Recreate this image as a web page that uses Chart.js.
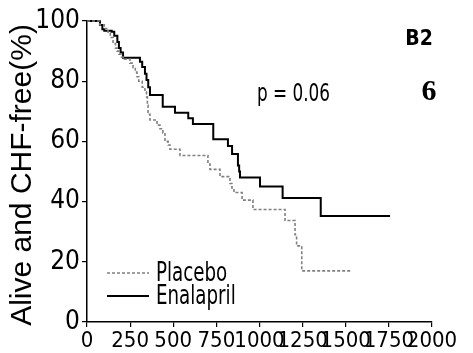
<!DOCTYPE html>
<html lang="en">
<head>
  <meta charset="UTF-8" />
  <title>Alive and CHF-free</title>
  <script src="https://cdn.jsdelivr.net/npm/chart.js"></script>
  <style>
    html, body {
      margin: 0;
      padding: 0;
      background: #fff;
    }
    #wrap {
      width: 473px;
      height: 353px;
    }
  </style>
</head>
<body>
  <div id="wrap"><canvas id="km" width="473" height="353"></canvas></div>

  <script>
    // Kaplan-Meier steps (days, % alive and CHF-free)
    const placeboDays = [0, 75, 100, 122, 135, 151, 165, 174, 185, 200, 209, 249, 267, 280, 290, 300, 320, 336, 345, 350, 354, 365, 406, 423, 440, 452, 470, 481, 539, 701, 713, 771, 829, 840, 852, 899, 962, 1148, 1206, 1215, 1245, 1535];
    const placeboPct = [100, 98.7, 97.5, 96, 94.5, 92.5, 91, 90, 89, 88, 87.3, 86, 84.5, 83, 81.5, 80, 78, 76.4, 74.8, 72, 69, 67.1, 65.4, 64.2, 62.8, 60, 58.8, 57.4, 55.3, 52.5, 50.7, 48.3, 46, 44.5, 43, 40.5, 37.4, 33.7, 29, 25.3, 17, 17];

    const enalaprilDays = [0, 75, 89, 100, 143, 158, 176, 185, 195, 209, 307, 320, 336, 345, 355, 365, 439, 510, 587, 614, 732, 817, 841, 875, 882, 887, 1003, 1134, 1355, 1757];
    const enalaprilPct = [100, 98.7, 97.3, 96.8, 96.4, 95.1, 93, 91, 89.5, 87.8, 86.5, 84.7, 82.5, 80.4, 78, 75.4, 71.5, 69.5, 67.7, 65.8, 60.7, 58.5, 55.8, 52, 50, 48, 45, 41.2, 35.2, 35.2];

    const seriesNames = ['Placebo', 'Enalapril'];
    const yTitle = 'Alive and CHF-free(%)';
    const pText = 'p = 0.06';
    const panelTag = 'B2';
    const panelNum = '6';

    const canvas = document.getElementById('km');
    const ctx = canvas.getContext('2d');

    // pick first installed font from a list (compare against two fallbacks)
    function pickFont(cands, fallback) {
      const probe = 'mmmwwwiiilll0123456789';
      for (const name of cands) {
        let differs = false;
        for (const base of ['monospace', 'serif']) {
          ctx.font = '40px ' + base;
          const w0 = ctx.measureText(probe).width;
          ctx.font = '40px "' + name + '", ' + base;
          if (ctx.measureText(probe).width !== w0) differs = true;
        }
        if (differs) return '"' + name + '"';
      }
      return fallback;
    }

    const narrow = pickFont(['Liberation Sans Narrow', 'DejaVu Sans Condensed', 'Roboto Condensed'], '"Liberation Sans"');
    const plain = '"Liberation Sans", Arial, sans-serif';

    function toPoints(days, pct) {
      return days.map((d, i) => ({ x: d, y: pct[i] }));
    }

    // text squeezed horizontally, the original uses a condensed face
    function squeezed(c, text, x, y, sx) {
      c.save();
      c.translate(x, y);
      c.scale(sx, 1);
      c.fillText(text, 0, 0);
      c.restore();
    }

    const textPlugin = {
      id: 'panelText',
      afterDraw(chart) {
        const c = chart.ctx;
        c.save();
        c.fillStyle = '#000';

        // y axis title
        c.save();
        c.translate(23, 175);
        c.rotate(-Math.PI / 2);
        c.textAlign = 'center';
        c.textBaseline = 'middle';
        c.font = '30px ' + plain;
        c.fillText(yTitle, 0, 0);
        c.restore();

        c.textBaseline = 'alphabetic';
        c.textAlign = 'left';
        c.font = '24px ' + narrow;
        squeezed(c, pText, 257, 101, 0.78);

        c.textAlign = 'center';
        c.font = 'bold 21px ' + narrow;
        c.fillText(panelTag, 419, 45);

        c.font = 'bold 30px "Liberation Serif", "DejaVu Serif", serif';
        c.fillText(panelNum, 429, 100);

        // legend
        const rows = [
          { y: 273, dash: [3, 2], color: '#808080', w: 1.6, label: seriesNames[0], base: 281 },
          { y: 296, dash: [], color: '#000', w: 2, label: seriesNames[1], base: 304 }
        ];
        rows.forEach(r => {
          c.beginPath();
          c.setLineDash(r.dash);
          c.strokeStyle = r.color;
          c.lineWidth = r.w;
          c.moveTo(107, r.y);
          c.lineTo(149, r.y);
          c.stroke();
          c.setLineDash([]);
          c.textAlign = 'left';
          c.font = '26px ' + narrow;
          squeezed(c, r.label, 156, r.base, 0.78);
        });
        c.restore();
      }
    };

    const chart = new Chart(ctx, {
      type: 'line',
      data: {
        datasets: [
          {
            label: seriesNames[0],
            data: toPoints(placeboDays, placeboPct),
            stepped: 'before',
            borderColor: '#808080',
            borderWidth: 1.6,
            borderDash: [3, 2],
            pointRadius: 0,
            fill: false,
            clip: 5
          },
          {
            label: seriesNames[1],
            data: toPoints(enalaprilDays, enalaprilPct),
            stepped: 'before',
            borderColor: '#000',
            borderWidth: 2,
            pointRadius: 0,
            fill: false,
            clip: 5
          }
        ]
      },
      options: {
        responsive: false,
        animation: false,
        events: [],
        layout: { padding: { left: 0, right: 41, top: 21, bottom: 0 } },
        plugins: {
          legend: { display: false },
          tooltip: { enabled: false }
        },
        scales: {
          x: {
            type: 'linear',
            min: 0,
            max: 2000,
            afterFit: s => { s.height = 31; },
            ticks: {
              stepSize: 250,
              autoSkip: false,
              maxRotation: 0,
              padding: 1,
              color: '#000',
              font: { family: narrow, size: 22 },
              callback: v => String(v)
            },
            grid: { drawOnChartArea: false, drawTicks: true, tickLength: 5, color: '#000', lineWidth: 1.2 },
            border: { color: '#000', width: 1.5 }
          },
          y: {
            min: 0,
            max: 100,
            afterFit: s => { s.width = 87; },
            ticks: {
              stepSize: 10,
              padding: 2,
              color: '#000',
              font: { family: narrow, size: 26 },
              callback: v => (v % 20 === 0 ? String(v) : '')
            },
            grid: { drawOnChartArea: false, drawTicks: true, tickLength: 5, color: '#000', lineWidth: 1.2 },
            border: { color: '#000', width: 1.5 }
          }
        }
      },
      plugins: [textPlugin]
    });
  </script>
</body>
</html>
